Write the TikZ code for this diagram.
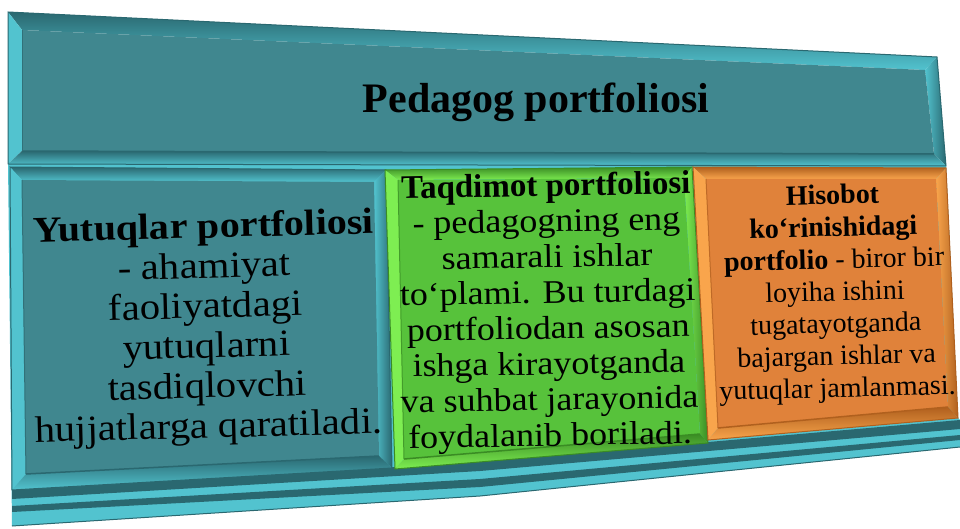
\documentclass[tikz,border=0pt]{standalone}
\usepackage{fontspec}
\setmainfont{Liberation Serif}
\newfontfamily\wideA[FakeStretch=1.1]{Liberation Serif}
\newfontfamily\wideG[FakeStretch=1.09]{Liberation Serif}
\definecolor{tealpanel}{HTML}{40878F}
\definecolor{teallight}{HTML}{52C3CF}
\definecolor{tealdark}{HTML}{2A6870}
\definecolor{greenpanel}{HTML}{57C23B}
\definecolor{greenlight}{HTML}{7EEE52}
\definecolor{greendark}{HTML}{3A8C24}
\definecolor{orangepanel}{HTML}{E0823A}
\definecolor{orangelight}{HTML}{F9A54C}
\definecolor{orangedark}{HTML}{B0601E}
\newcommand{\bevelquad}[4]{%
  \shade[top color=#4, bottom color=#3] (#1A)--(#1B)--(#1b)--(#1a)--cycle;
  \fill[#3] (#1A)--(#1a)--(#1d)--(#1D)--cycle;
  \shade[left color=#3, right color=#4] (#1B)--(#1C)--(#1c)--(#1b)--cycle;
  \shade[top color=#4, bottom color=#3] (#1d)--(#1c)--(#1C)--(#1D)--cycle;
  \fill[#2] (#1a)--(#1b)--(#1c)--(#1d)--cycle;
  \draw[#4, line width=1.5] (#1d)--(#1c);
  \draw[#4!70!#2, line width=1] (#1a)--(#1d);
  \draw[#4, line width=1] (#1A)--(#1B)--(#1C)--(#1D)--cycle;
}
\tikzset{
  txt/.style={align=center, inner sep=0pt, text=black},
}
\begin{document}
\begin{tikzpicture}[x=1pt,y=-1pt]
\useasboundingbox (0,0) rectangle (960,529);
\fill[white] (0,0) rectangle (960,529);
% base frame of the lower part
\fill[teallight] (8,162)--(946,164)--(958,418)--(960,420)--(960,447)--(480,496)--(12,526)--cycle;
% bottom strips
\fill[tealdark] (12,490)--(480,462)--(960,420)--(960,429)--(480,471)--(12,499)--cycle;
\fill[tealdark] (12,506)--(480,479)--(960,435)--(960,440)--(480,487)--(12,512)--cycle;
\draw[tealdark, line width=1] (12,526)--(480,496)--(960,447);
% top box
\coordinate (tA) at (8,12);   \coordinate (tB) at (937,57);
\coordinate (tC) at (946,166); \coordinate (tD) at (8,164);
\coordinate (ta) at (22,30);  \coordinate (tb) at (925,70);
\coordinate (tc) at (934,154); \coordinate (td) at (22,151);
\bevelquad{t}{tealpanel}{teallight}{tealdark}
% left box
\coordinate (lA) at (10,167);  \coordinate (lB) at (386,170);
\coordinate (lC) at (392,468); \coordinate (lD) at (12,490);
\coordinate (la) at (22,180);  \coordinate (lb) at (374,182);
\coordinate (lc) at (379,456); \coordinate (ld) at (26,474);
\bevelquad{l}{tealpanel}{teallight}{tealdark}
% green box
\coordinate (gA) at (385,170);  \coordinate (gB) at (692,167);
\coordinate (gC) at (708,443);  \coordinate (gD) at (395,469);
\coordinate (ga) at (398,180);  \coordinate (gb) at (684,178);
\coordinate (gc) at (700,434);  \coordinate (gd) at (404,459);
\bevelquad{g}{greenpanel}{greenlight}{greendark}
% orange box
\coordinate (oA) at (693,167);  \coordinate (oB) at (946,168);
\coordinate (oC) at (958,418);  \coordinate (oD) at (708,440);
\coordinate (oa) at (706,179);  \coordinate (ob) at (936,179);
\coordinate (oc) at (948,407);  \coordinate (od) at (718,428);
\bevelquad{o}{orangepanel}{orangelight}{orangedark}
% texts
\node[txt, anchor=base, font=\fontsize{42}{42}\selectfont\bfseries] (title) at (536,113) {Pedagog portfoliosi};
\node[txt, rotate=1.5, font=\wideA\fontsize{37}{40}\selectfont] (yutuq) at (206,329)
  {{\fontsize{36.5}{40}\selectfont\bfseries Yutuqlar portfoliosi}\\- ahamiyat\\faoliyatdagi\\yutuqlarni\\tasdiqlovchi\\hujjatlarga qaratiladi.};
\node[txt, rotate=1, font=\wideG\fontsize{33}{35.7}\selectfont] (taqdim) at (548,313)
  {{\rmfamily\fontsize{33}{35.7}\selectfont\bfseries Taqdimot portfoliosi}\\- pedagogning eng\\samarali ishlar\\to‘plami. Bu turdagi\\portfoliodan asosan\\ishga kirayotganda\\va suhbat jarayonida\\foydalanib boriladi.};
\node[txt, rotate=1.5, font=\fontsize{28}{32.2}\selectfont] (hisobot) at (835,294)
  {\textbf{Hisobot}\\\textbf{ko‘rinishidagi}\\\textbf{portfolio} - biror bir\\loyiha ishini\\tugatayotganda\\bajargan ishlar va\\yutuqlar jamlanmasi.};
\end{tikzpicture}
\end{document}
